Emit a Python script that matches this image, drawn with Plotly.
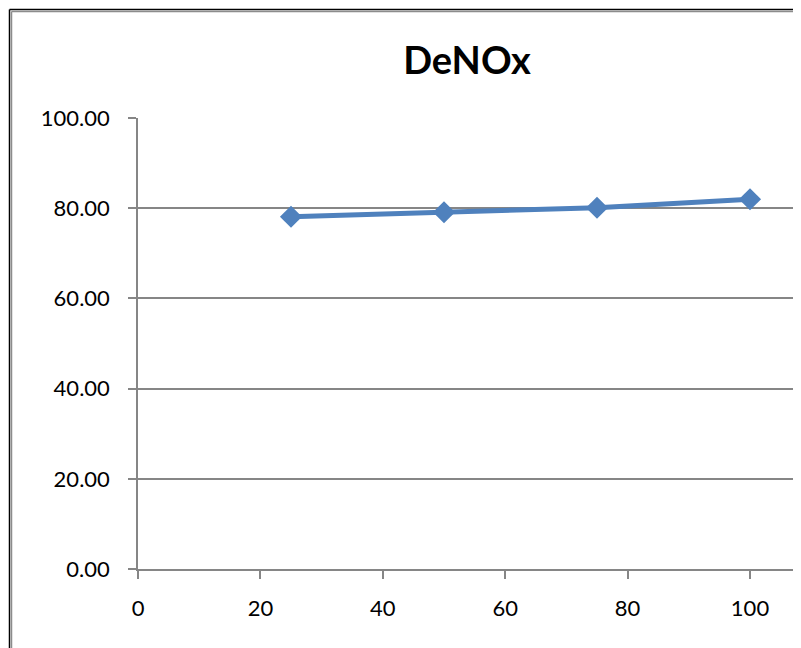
import plotly.graph_objects as go

x_vals = [25, 50, 75, 100]
denox = [78.1, 79.1, 80.1, 82.0]
y_ticks = [0, 20, 40, 60, 80, 100]
y_tick_text = ["0.00", "20.00", "40.00", "60.00", "80.00", "100.00"]
x_ticks = [0, 20, 40, 60, 80, 100]

W, H = 801, 648
L, R, T, B = 130, 0, 110, 87
plot_w = W - L - R
x_max = (W - L) / ((750 - 138) / 100)

fig = go.Figure()
fig.add_trace(go.Scatter(
    x=x_vals, y=denox, mode="lines+markers",
    line=dict(color="#4F81BD", width=5),
    marker=dict(symbol="diamond", size=17, color="#4F81BD"),
    showlegend=False, cliponaxis=False,
))

def px_to_paper_x(px):
    return (px - L) / plot_w

def px_to_paper_y(py):
    return (H - B - py) / (H - T - B)

shapes = [
    dict(type="line", xref="paper", yref="paper", x0=px_to_paper_x(1.5), x1=px_to_paper_x(1.5),
         y0=px_to_paper_y(1.5), y1=px_to_paper_y(660), line=dict(color="#000000", width=1.5)),
    dict(type="line", xref="paper", yref="paper", x0=px_to_paper_x(1.5), x1=px_to_paper_x(820),
         y0=px_to_paper_y(1.5), y1=px_to_paper_y(1.5), line=dict(color="#000000", width=1.5)),
    dict(type="line", xref="paper", yref="paper", x0=px_to_paper_x(3.5), x1=px_to_paper_x(3.5),
         y0=px_to_paper_y(3.5), y1=px_to_paper_y(660), line=dict(color="#8C8C8C", width=1.5)),
    dict(type="line", xref="paper", yref="paper", x0=px_to_paper_x(3.5), x1=px_to_paper_x(820),
         y0=px_to_paper_y(3.5), y1=px_to_paper_y(3.5), line=dict(color="#8C8C8C", width=1.5)),
]

fig.update_layout(
    width=W, height=H,
    margin=dict(l=L, r=R, t=T, b=B, pad=0),
    paper_bgcolor="white", plot_bgcolor="white",
    title=dict(text="<b>DeNOx</b>", x=459 / W, xanchor="center",
               y=1 - 53 / H, yanchor="middle",
               font=dict(family="Lato", size=38, color="#000000")),
    font=dict(family="Lato", size=22, color="#000000"),
    shapes=shapes,
    xaxis=dict(range=[0, x_max], tickvals=x_ticks, ticks="outside", ticklen=8,
               tickcolor="#868686", tickwidth=1.5, showgrid=False, zeroline=False,
               showline=True, linecolor="#868686", linewidth=1.5,
               ticklabelstandoff=11, tickfont=dict(family="Lato", size=22, color="#000000")),
    yaxis=dict(range=[0, 100], tickvals=y_ticks, ticktext=y_tick_text, ticks="outside",
               ticklen=8, tickcolor="#868686", tickwidth=1.5, showgrid=True,
               gridcolor="#868686", gridwidth=1.5, zeroline=False,
               showline=True, linecolor="#868686", linewidth=1.5,
               ticklabelstandoff=14, tickfont=dict(family="Lato", size=22, color="#000000")),
)

fig.write_html("out.html")
